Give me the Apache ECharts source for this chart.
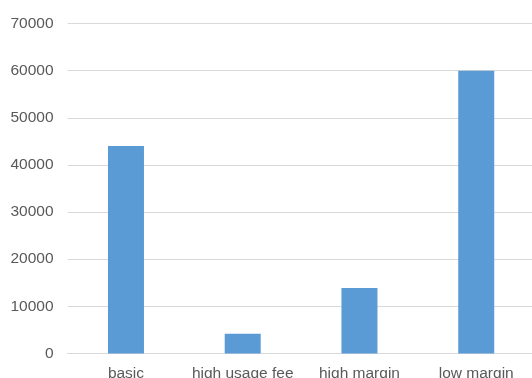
<!DOCTYPE html>
<html>
<head>
<meta charset="utf-8">
<style>
  html, body { margin: 0; padding: 0; background: #ffffff; }
  #chart { width: 532px; height: 378px; }
</style>
<script src="https://cdn.jsdelivr.net/npm/echarts@6/dist/echarts.min.js"></script>
</head>
<body>
<div id="chart"></div>
<script>
// Plan types and their totals
const categories = ['basic', 'high usage fee', 'high margin', 'low margin'];
const totals = [44000, 4200, 13900, 60000];
const yTicks = { min: 0, max: 70000, interval: 10000 };

const chart = echarts.init(document.getElementById('chart'), null, { renderer: 'canvas' });

const labelFont = {
  color: '#595959',
  fontFamily: 'Liberation Sans, Arial, sans-serif',
  fontSize: 15.5
};

chart.setOption({
  animation: false,
  grid: {
    left: 67.6, right: -2.6, top: 23.5, bottom: 24.5,
    containLabel: false,
    outerBoundsMode: 'none'
  },
  xAxis: {
    type: 'category',
    data: categories,
    axisLine: { show: true, lineStyle: { color: '#d9d9d9', width: 1 } },
    axisTick: { show: false },
    axisLabel: Object.assign({ margin: 12, interval: 0 }, labelFont)
  },
  yAxis: {
    type: 'value',
    min: yTicks.min,
    max: yTicks.max,
    interval: yTicks.interval,
    axisLine: { show: false },
    axisTick: { show: false },
    splitLine: { lineStyle: { color: '#d9d9d9', width: 1 } },
    axisLabel: Object.assign({ margin: 14, formatter: v => String(v) }, labelFont)
  },
  series: [{
    type: 'bar',
    data: totals,
    barWidth: 36,
    itemStyle: { color: '#5b9bd5' }
  }]
});
</script>
</body>
</html>
